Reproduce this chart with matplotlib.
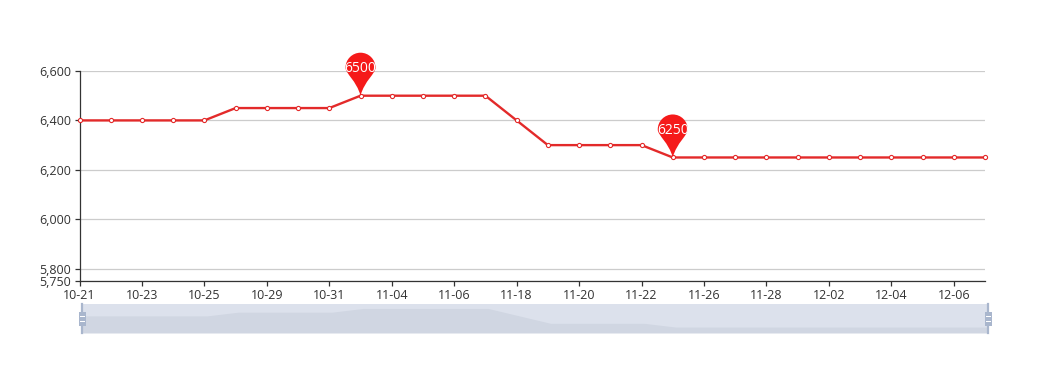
""" Price line with markers and a zoom slider """
import matplotlib
matplotlib.use("Agg")
import matplotlib.pyplot as plt
from matplotlib.patches import PathPatch, Rectangle
from matplotlib.path import Path
from matplotlib.transforms import Affine2D

dias = ["10-21", "10-22", "10-23", "10-24", "10-25", "10-26", "10-29", "10-30", "10-31", "11-01",
        "11-04", "11-05", "11-06", "11-07", "11-18", "11-19", "11-20", "11-21", "11-22", "11-25",
        "11-26", "11-27", "11-28", "11-29", "12-02", "12-03", "12-04", "12-05", "12-06", "12-07"]
precos = [6400, 6400, 6400, 6400, 6400, 6450, 6450, 6450, 6450, 6500,
          6500, 6500, 6500, 6500, 6400, 6300, 6300, 6300, 6300, 6250,
          6250, 6250, 6250, 6250, 6250, 6250, 6250, 6250, 6250, 6250]
y_ticks = [5750, 5800, 6000, 6200, 6400, 6600]
marcados = [9, 19]

W, H = 1044, 378
VERMELHO = "#e32a2a"
PIN = "#f51a1a"
TEXTO = "#333333"

plt.rcParams["font.family"] = ["Open Sans", "DejaVu Sans"]
plt.rcParams["font.size"] = 9.0


def caixa(x0, y0, x1, y1):
    # pixels da imagem (y para baixo) -> fracao da figura
    return [x0 / W, 1 - y1 / H, (x1 - x0) / W, (y1 - y0) / H]


def desenha_pin(ax, x, y, texto):
    px, py = ax.transData.transform((x, y))
    r = 15
    dy = 28
    k = 0.5523
    verts = [(0, 0), (-4, dy - 13), (-r, dy - 6), (-r, dy),
             (-r, dy + k * r), (-k * r, dy + r), (0, dy + r),
             (k * r, dy + r), (r, dy + k * r), (r, dy),
             (r, dy - 6), (4, dy - 13), (0, 0), (0, 0)]
    codes = [Path.MOVETO] + [Path.CURVE4] * 12 + [Path.CLOSEPOLY]
    tr = Affine2D().translate(px, py)
    fig.add_artist(PathPatch(Path(verts, codes), facecolor=PIN, edgecolor="none",
                             transform=tr, zorder=10))
    fig.text(px / W, (py + dy - 1) / H, texto, color="white", fontsize=10,
             ha="center", va="center", zorder=11)


fig = plt.figure(figsize=(W / 100, H / 100), dpi=100)
ax = fig.add_axes(caixa(79.5, 71, 985, 281))
xs = list(range(len(dias)))

ax.plot(xs, precos, color=VERMELHO, linewidth=1.7, marker="o", markersize=3.0,
        markerfacecolor="white", markeredgecolor=VERMELHO, markeredgewidth=0.8,
        clip_on=False, zorder=5)
ax.set_xlim(0, len(dias) - 1)
ax.set_ylim(5750, 6600)
ax.set_yticks(y_ticks)
ax.set_yticklabels([f"{v:,}" for v in y_ticks])
ax.set_xticks(xs[::2])
ax.set_xticklabels(dias[::2])
ax.grid(axis="y", color="#cccccc", linewidth=0.9)
ax.set_axisbelow(True)
ax.tick_params(length=3.6, width=0.9, color=TEXTO, labelcolor=TEXTO, pad=2.5)
ax.spines["top"].set_visible(False)
ax.spines["right"].set_visible(False)
ax.spines["left"].set_color(TEXTO)
ax.spines["bottom"].set_color(TEXTO)
ax.spines["left"].set_linewidth(0.9)
ax.spines["bottom"].set_linewidth(0.9)

for i in marcados:
    desenha_pin(ax, xs[i], precos[i], str(precos[i]))

# slider
sl = fig.add_axes(caixa(82, 304, 988, 333))
sl.set_xlim(0, len(dias) - 1)
sl.set_ylim(6170, 6560)
sl.set_facecolor("#dce1ec")
sl.fill_between(xs, 6170, precos, color="#d0d6e2", linewidth=0)
sl.set_xticks([])
sl.set_yticks([])
for s in sl.spines.values():
    s.set_visible(False)
sl.axvline(0, color="#a9b6cd", linewidth=1.6, clip_on=False)
sl.axvline(len(dias) - 1, color="#a9b6cd", linewidth=1.6, clip_on=False)

for cx in (82, 988):
    fig.add_artist(Rectangle((cx - 3.5, H - 326), 7, 14, transform=None,
                             facecolor="#a9b6cd", edgecolor="none", zorder=8))
    for yy in (H - 321.5, H - 317):
        fig.add_artist(Rectangle((cx - 2.5, yy), 5, 1, transform=None,
                                 facecolor="white", edgecolor="none", zorder=9))

fig.savefig("out.png", dpi=100)
